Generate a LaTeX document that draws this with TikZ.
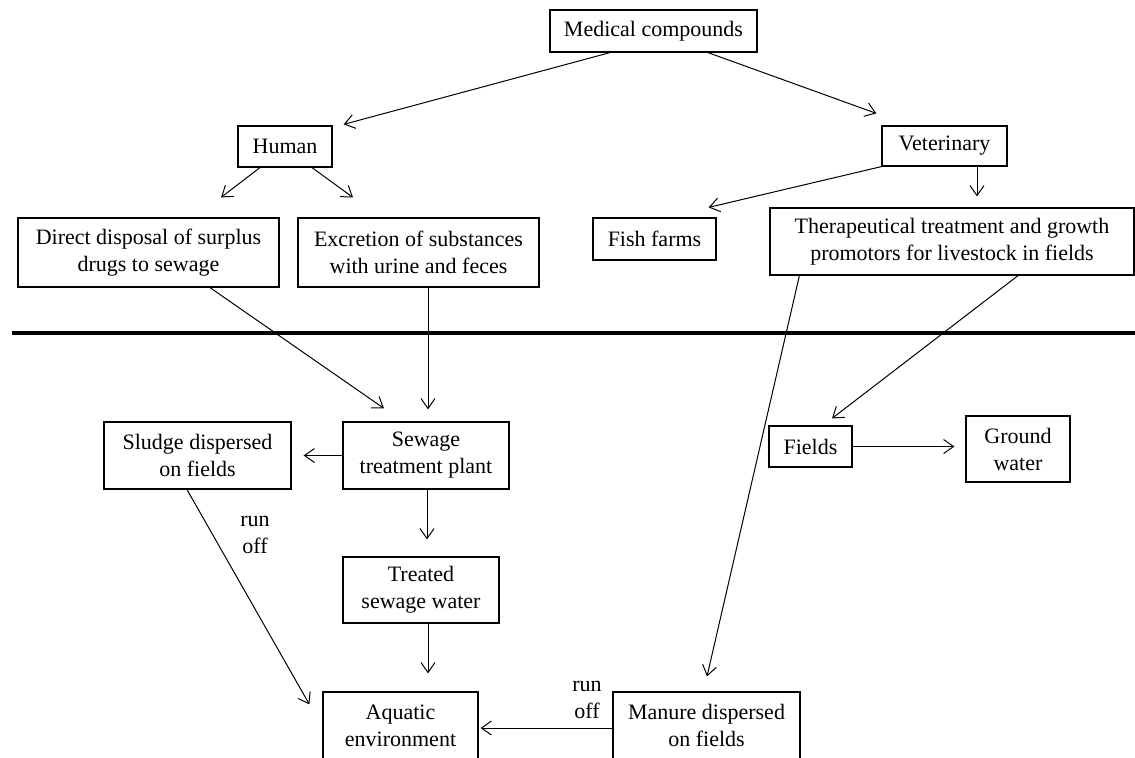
\documentclass[tikz,border=0pt]{standalone}
\usepackage{fontspec}
\setmainfont{Liberation Serif}
\usetikzlibrary{calc,arrows.meta}
\tikzset{box/.style 2 args={draw,line width=.6pt,minimum width=#1*.5pt,minimum height=#2*.5pt,inner sep=0pt,align=center},
  arr/.style={-{Straight Barb[length=5pt,width=7pt]},line width=.5pt}}
\begin{document}
\begin{tikzpicture}[x=.5pt,y=-.5pt,font=\fontsize{11}{13.5}\selectfont]
  \useasboundingbox (0,0) rectangle (1135,757);
  \node[box={207}{42}] (med) at (653.5,31) {Medical compounds};
  \node[box={94}{41}] (hum) at (285,146.5) {Human};
  \node[box={125}{40}] (vet) at (944.5,146) {Veterinary};
  \node[box={261}{69}] (disp) at (148.5,252.5) {Direct disposal of surplus\\drugs to sewage};
  \node[box={241}{69}] (excr) at (418.5,252.5) {Excretion of substances\\with urine and feces};
  \node[box={123}{42}] (fish) at (654.5,239) {Fish farms};
  \node[box={364}{67}] (ther) at (952,241.5) {Therapeutical treatment and growth\\promotors for livestock in fields};
  \node[box={166}{67}] (stp) at (426,455.5) {Sewage\\treatment plant};
  \node[box={187}{67}] (sludge) at (197.5,455.5) {Sludge dispersed\\on fields};
  \node[box={156}{66}] (treat) at (421,590) {Treated\\sewage water};
  \node[box={83}{41}] (fields) at (810.5,446.5) {Fields};
  \node[box={104}{66}] (ground) at (1018,449) {Ground\\water};
  \node[box={155}{67}] (aqua) at (400.5,725.5) {Aquatic\\environment};
  \node[box={187}{67}] (manure) at (706.5,725.5) {Manure dispersed\\on fields};
  \node[align=center,inner sep=0pt] (runA) at (255,534.5) {run\\off};
  \node[align=center,inner sep=0pt] (runB) at (587,700) {run\\off};
  % divider
  \draw[line width=2pt] (12,333) -- (1135,333);
  \draw[arr] ($(med.south)+(-43.5,0)$) -- ($(hum.north east)+(11,-1)$);
  \draw[arr] ($(med.south)+(54.5,0)$) -- ($(vet.north west)+(-5,-12)$);
  \draw[arr] ($(hum.south)+(-25,0)$) -- ($(disp.north)+(72.5,-20)$);
  \draw[arr] ($(hum.south)+(27,0)$) -- ($(excr.north)+(-65.5,-20)$);
  \draw[arr] (vet.south west) -- ($(fish.north east)+(-8,-10)$);
  \draw[arr] ($(vet.south)+(32.5,0)$) -- ($(ther.north)+(25,-11)$);
  \draw[arr] ($(disp.south)+(61.5,0)$) -- ($(stp.north)+(-42,-13)$);
  \draw[arr] ($(excr.south)+(9.5,0)$) -- ($(stp.north)+(2,-12)$);
  \draw[arr] (stp.west) -- ($(sludge.east)+(12,0)$);
  \draw[arr] ($(stp.south)+(1,0)$) -- ($(treat.north)+(6,-17)$);
  \draw[arr] ($(sludge.south)+(-10.5,0)$) -- ($(aqua.north west)+(-13,13)$);
  \draw[arr] ($(treat.south)+(7,0)$) -- ($(aqua.north)+(27.5,-18)$);
  \draw[arr] ($(ther.south west)+(30,0)$) -- ($(manure.north)+(.5,-15)$);
  \draw[arr] ($(ther.south)+(66,0)$) -- ($(fields.north)+(21.5,-7)$);
  \draw[arr] (fields.east) -- ($(ground.west)+(-11,-2.5)$);
  \draw[arr] ($(manure.west)+(0,2.5)$) -- ($(aqua.east)+(2,2.5)$);
\end{tikzpicture}
\end{document}
